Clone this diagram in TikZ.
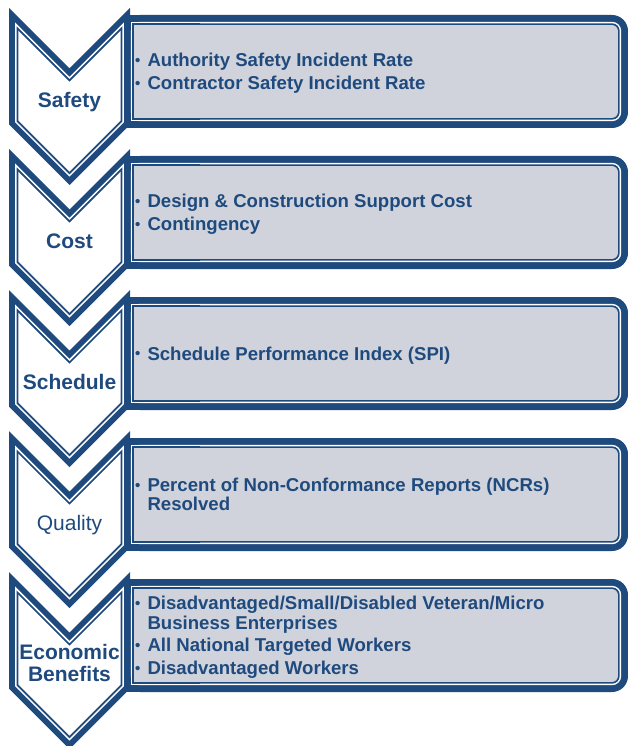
\documentclass[tikz,border=0pt]{standalone}
\usepackage{fontspec}
\setmainfont{Liberation Sans}
\definecolor{nv}{HTML}{1F4A7E}
\definecolor{bxg}{HTML}{D0D3DB}
% chevron polygon inset by #2, chevron top at y=#1 (px, downwards)
\newcommand\chevp[2]{({9+#2},{-(#1+2.4142*#2)}) -- (69.5,{-(#1+60.5+1.4142*#2)}) -- ({130-#2},{-(#1+2.4142*#2)}) -- ({130-#2},{-(#1+116.5-0.4142*#2)}) -- (69.5,{-(#1+177-1.4142*#2)}) -- ({9+#2},{-(#1+116.5-0.4142*#2)}) -- cycle}
\newcommand\boxlayer[4]{%
  \fill[#4,rounded corners=#3pt] ({124+#2},{-(#1+7+#2)}) rectangle ({628-#2},{-(#1+120-#2)});
  \fill[#4] ({124+#2},{-(#1+7+#2)}) rectangle (200,{-(#1+120-#2)});}
\newcommand\rowshape[1]{%
  \fill[nv] \chevp{#1}{0};
  \fill[white] \chevp{#1}{6};
  \fill[nv] \chevp{#1}{7.6};
  \fill[white] \chevp{#1}{9.4};
  \boxlayer{#1}{0}{16}{nv}
  \boxlayer{#1}{6.8}{9.2}{white}
  \boxlayer{#1}{8.3}{7.7}{nv}
  \boxlayer{#1}{10.1}{5.9}{bxg}}
\newcommand\bul{\makebox[13.8pt][l]{\hspace*{1.5pt}\fontsize{15}{15}\selectfont\raisebox{1.2pt}{•}}}
\tikzset{
  lbl/.style={anchor=base,inner sep=0pt,text=nv,font=\fontsize{21}{21}\selectfont\bfseries},
  lblr/.style={anchor=base,inner sep=0pt,text=nv,font=\fontsize{21}{21}\selectfont},
  itm/.style={anchor=base west,inner sep=0pt,text=nv,font=\fontsize{18.6}{19.5}\selectfont\bfseries}
}
\begin{document}
\begin{tikzpicture}[x=1pt,y=1pt]
\useasboundingbox (0,0) rectangle (628,-746);
\rowshape{8}
\rowshape{149}
\rowshape{290}
\rowshape{431}
\rowshape{572}
% labels
\node[lbl] (safety) at (69.5,-107.5) {Safety};
\node[lbl] (cost) at (69.5,-248.5) {Cost};
\node[lbl] (schedule) at (69.5,-389.5) {Schedule};
\node[lblr] (quality) at (69.5,-530.5) {Quality};
\node[lbl] (econ1) at (69.5,-659.5) {Economic};
\node[lbl] (econ2) at (69.5,-681) {Benefits};
% items
\node[itm] (s1) at (133.5,-66.85) {\bul Authority Safety Incident Rate};
\node[itm] (s2) at (133.5,-89.45) {\bul Contractor Safety Incident Rate};
\node[itm] (c1) at (133.5,-207.85) {\bul Design \& Construction Support Cost};
\node[itm] (c2) at (133.5,-230.45) {\bul Contingency};
\node[itm] (p1) at (133.5,-360.15) {\bul Schedule Performance Index (SPI)};
\node[itm] (q1) at (133.5,-491.4) {\bul Percent of Non-Conformance Reports (NCRs)};
\node[itm] (q2) at (133.5,-510.9) {\hspace*{13.8pt}Resolved};
\node[itm] (e1) at (133.5,-609.8) {\bul Disadvantaged/Small/Disabled Veteran/Micro};
\node[itm] (e2) at (133.5,-629.3) {\hspace*{13.8pt}Business Enterprises};
\node[itm] (e3) at (133.5,-651.9) {\bul All National Targeted Workers};
\node[itm] (e4) at (133.5,-674.5) {\bul Disadvantaged Workers};
\end{tikzpicture}
\end{document}
